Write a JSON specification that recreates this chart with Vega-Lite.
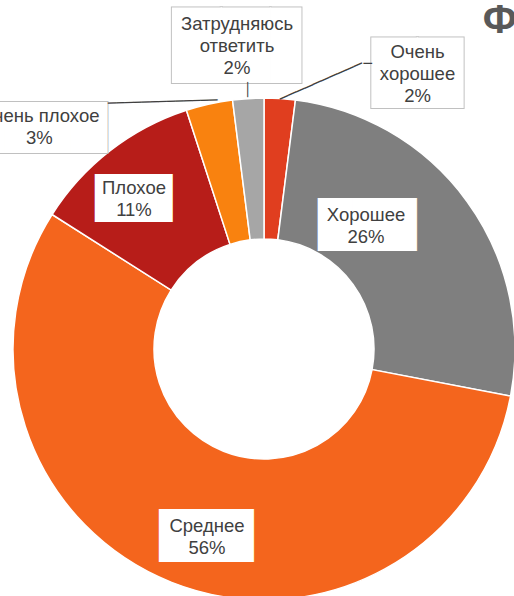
{
  "$schema": "https://vega.github.io/schema/vega-lite/v6.json",
  "width": 500,
  "height": 494,
  "autosize": {"type": "none"},
  "padding": {"left": 14, "top": 102, "right": 0, "bottom": 0},
  "background": "white",
  "config": {"view": {"stroke": null}},
  "title": {"text": "Ф", "orient": "top", "anchor": "end", "frame": "group", "align": "right", "baseline": "alphabetic", "font": "Liberation Sans", "fontSize": 40, "fontWeight": "bold", "color": "#595959", "offset": 0, "dx": 3, "dy": 58},
  "data": {"values": [
    {"rank": 1, "category": "Очень хорошее", "value": 2, "label": "Очень\nхорошее\n2%"},
    {"rank": 2, "category": "Хорошее", "value": 26, "label": "Хорошее\n26%"},
    {"rank": 3, "category": "Среднее", "value": 56, "label": "Среднее\n56%"},
    {"rank": 4, "category": "Плохое", "value": 11, "label": "Плохое\n11%"},
    {"rank": 5, "category": "Очень плохое", "value": 3, "label": "Очень плохое\n3%"},
    {"rank": 6, "category": "Затрудняюсь ответить", "value": 2, "label": "Затрудняюсь\nответить\n2%"}
  ]},
  "encoding": {
    "theta": {"field": "value", "type": "quantitative", "stack": true},
    "order": {"field": "rank", "type": "quantitative"},
    "detail": {"field": "category", "type": "nominal"}
  },
  "layer": [
    {
      "mark": {"type": "arc", "outerRadius": 251, "innerRadius": 110, "stroke": "white", "strokeWidth": 1.5},
      "encoding": {
        "color": {"field": "category", "type": "nominal", "legend": null,
          "scale": {"domain": ["Очень хорошее", "Хорошее", "Среднее", "Плохое", "Очень плохое", "Затрудняюсь ответить"],
                    "range": ["#E03E1F", "#7F7F7F", "#F4651D", "#B71D19", "#F9820F", "#A6A6A6"]}}
      }
    },
    {"mark": {"type": "text", "font": "DejaVu Sans", "fontSize": 63.57, "align": "left", "baseline": "alphabetic", "fill": "#c0c0c0", "stroke": "#c0c0c0", "strokeWidth": 2, "dx": -73.05, "dy": 7.4},
     "encoding": {"radius": {"value": 290}, "text": {"condition": {"test": "datum.category === 'Затрудняюсь ответить'", "value": "██▋"}, "value": ""}}},
    {"mark": {"type": "text", "font": "DejaVu Sans", "fontSize": 59.28, "align": "left", "baseline": "alphabetic", "fill": "#c0c0c0", "stroke": "#c0c0c0", "strokeWidth": 2, "dx": 89.8, "dy": 33.4},
     "encoding": {"radius": {"value": 290}, "text": {"condition": {"test": "datum.category === 'Очень хорошее'", "value": "██"}, "value": ""}}},
    {"mark": {"type": "text", "font": "DejaVu Sans", "fontSize": 42.96, "align": "left", "baseline": "alphabetic", "fill": "#c0c0c0", "stroke": "#c0c0c0", "strokeWidth": 2, "dx": -229.3, "dy": 75.87},
     "encoding": {"radius": {"value": 290}, "text": {"condition": {"test": "datum.category === 'Очень плохое'", "value": "████▏"}, "value": ""}}},
    {"mark": {"type": "text", "font": "DejaVu Sans", "fontSize": 63.57, "align": "left", "baseline": "alphabetic", "fill": "white", "dx": -73.05, "dy": 7.4},
     "encoding": {"radius": {"value": 290}, "text": {"condition": {"test": "datum.category === 'Затрудняюсь ответить'", "value": "██▋"}, "value": ""}}},
    {"mark": {"type": "text", "font": "DejaVu Sans", "fontSize": 59.28, "align": "left", "baseline": "alphabetic", "fill": "white", "dx": 89.8, "dy": 33.4},
     "encoding": {"radius": {"value": 290}, "text": {"condition": {"test": "datum.category === 'Очень хорошее'", "value": "██"}, "value": ""}}},
    {"mark": {"type": "text", "font": "DejaVu Sans", "fontSize": 42.96, "align": "left", "baseline": "alphabetic", "fill": "white", "dx": -229.3, "dy": 75.87},
     "encoding": {"radius": {"value": 290}, "text": {"condition": {"test": "datum.category === 'Очень плохое'", "value": "████▏"}, "value": ""}}},
    {"mark": {"type": "text", "font": "DejaVu Sans", "fontSize": 44.67, "align": "left", "baseline": "alphabetic", "fill": "white", "dx": -91.6, "dy": -2.75},
     "encoding": {"radius": {"value": 180}, "text": {"condition": {"test": "datum.category === 'Хорошее'", "value": "██▉"}, "value": ""}}},
    {"mark": {"type": "text", "font": "DejaVu Sans", "fontSize": 44.67, "align": "left", "baseline": "alphabetic", "fill": "white", "dx": -38.5, "dy": 35.05},
     "encoding": {"radius": {"value": 180}, "text": {"condition": {"test": "datum.category === 'Среднее'", "value": "██▊"}, "value": ""}}},
    {"mark": {"type": "text", "font": "DejaVu Sans", "fontSize": 40.38, "align": "left", "baseline": "alphabetic", "fill": "white", "dx": -58.7, "dy": 5.67},
     "encoding": {"radius": {"value": 180}, "text": {"condition": {"test": "datum.category === 'Плохое'", "value": "██▌"}, "value": ""}}},
    {"mark": {"type": "text", "font": "DejaVu Sans", "fontSize": 12.9, "align": "center", "baseline": "alphabetic", "fill": "#404040", "dx": 2.2, "dy": 34.4},
     "encoding": {"radius": {"value": 290}, "text": {"condition": {"test": "datum.category === 'Затрудняюсь ответить'", "value": "│"}, "value": ""}}},
    {"mark": {"type": "text", "font": "DejaVu Sans", "fontSize": 14, "align": "left", "baseline": "alphabetic", "fill": "#404040", "angle": 358.4, "dx": -93.8, "dy": 39.3},
     "encoding": {"radius": {"value": 290}, "text": {"condition": {"test": "datum.category === 'Очень плохое'", "value": "─────────────"}, "value": ""}}},
    {"mark": {"type": "text", "font": "DejaVu Sans", "fontSize": 14, "align": "right", "baseline": "alphabetic", "fill": "#404040", "dx": 89.8, "dy": 8.24},
     "encoding": {"radius": {"value": 290}, "text": {"condition": {"test": "datum.category === 'Очень хорошее'", "value": "─"}, "value": ""}}},
    {"mark": {"type": "text", "font": "DejaVu Sans", "fontSize": 14.87, "align": "left", "baseline": "alphabetic", "fill": "#404040", "angle": 336.3, "dx": -17.85, "dy": 40.35},
     "encoding": {"radius": {"value": 290}, "text": {"condition": {"test": "datum.category === 'Очень хорошее'", "value": "──────────"}, "value": ""}}},
    {"mark": {"type": "text", "font": "Liberation Sans", "fontSize": 18.5, "lineHeight": 22, "lineBreak": "\n", "align": "center", "baseline": "middle", "fill": "#404040", "dx": -8.8, "dy": -35.1},
     "encoding": {"radius": {"value": 290}, "text": {"condition": {"test": "datum.category === 'Затрудняюсь ответить'", "field": "label", "type": "nominal"}, "value": ""}}},
    {"mark": {"type": "text", "font": "Liberation Sans", "fontSize": 18.5, "lineHeight": 22, "lineBreak": "\n", "align": "center", "baseline": "middle", "fill": "#404040", "dx": 135.3, "dy": -7.6},
     "encoding": {"radius": {"value": 290}, "text": {"condition": {"test": "datum.category === 'Очень хорошее'", "field": "label", "type": "nominal"}, "value": ""}}},
    {"mark": {"type": "text", "font": "Liberation Sans", "fontSize": 18.5, "lineHeight": 22, "lineBreak": "\n", "align": "center", "baseline": "middle", "fill": "#404040", "dx": -161.3, "dy": 50},
     "encoding": {"radius": {"value": 290}, "text": {"condition": {"test": "datum.category === 'Очень плохое'", "field": "label", "type": "nominal"}, "value": ""}}},
    {"mark": {"type": "text", "font": "Liberation Sans", "fontSize": 18.5, "lineHeight": 22, "lineBreak": "\n", "align": "center", "baseline": "middle", "fill": "#404040", "dx": -43.6, "dy": -28.2},
     "encoding": {"radius": {"value": 180}, "text": {"condition": {"test": "datum.category === 'Хорошее'", "field": "label", "type": "nominal"}, "value": ""}}},
    {"mark": {"type": "text", "font": "Liberation Sans", "fontSize": 18.5, "lineHeight": 22, "lineBreak": "\n", "align": "center", "baseline": "middle", "fill": "#404040", "dx": 9.3, "dy": 9.6},
     "encoding": {"radius": {"value": 180}, "text": {"condition": {"test": "datum.category === 'Среднее'", "field": "label", "type": "nominal"}, "value": ""}}},
    {"mark": {"type": "text", "font": "Liberation Sans", "fontSize": 18.5, "lineHeight": 22, "lineBreak": "\n", "align": "center", "baseline": "middle", "fill": "#404040", "dx": -19.7, "dy": -18.3},
     "encoding": {"radius": {"value": 180}, "text": {"condition": {"test": "datum.category === 'Плохое'", "field": "label", "type": "nominal"}, "value": ""}}}
  ]
}
